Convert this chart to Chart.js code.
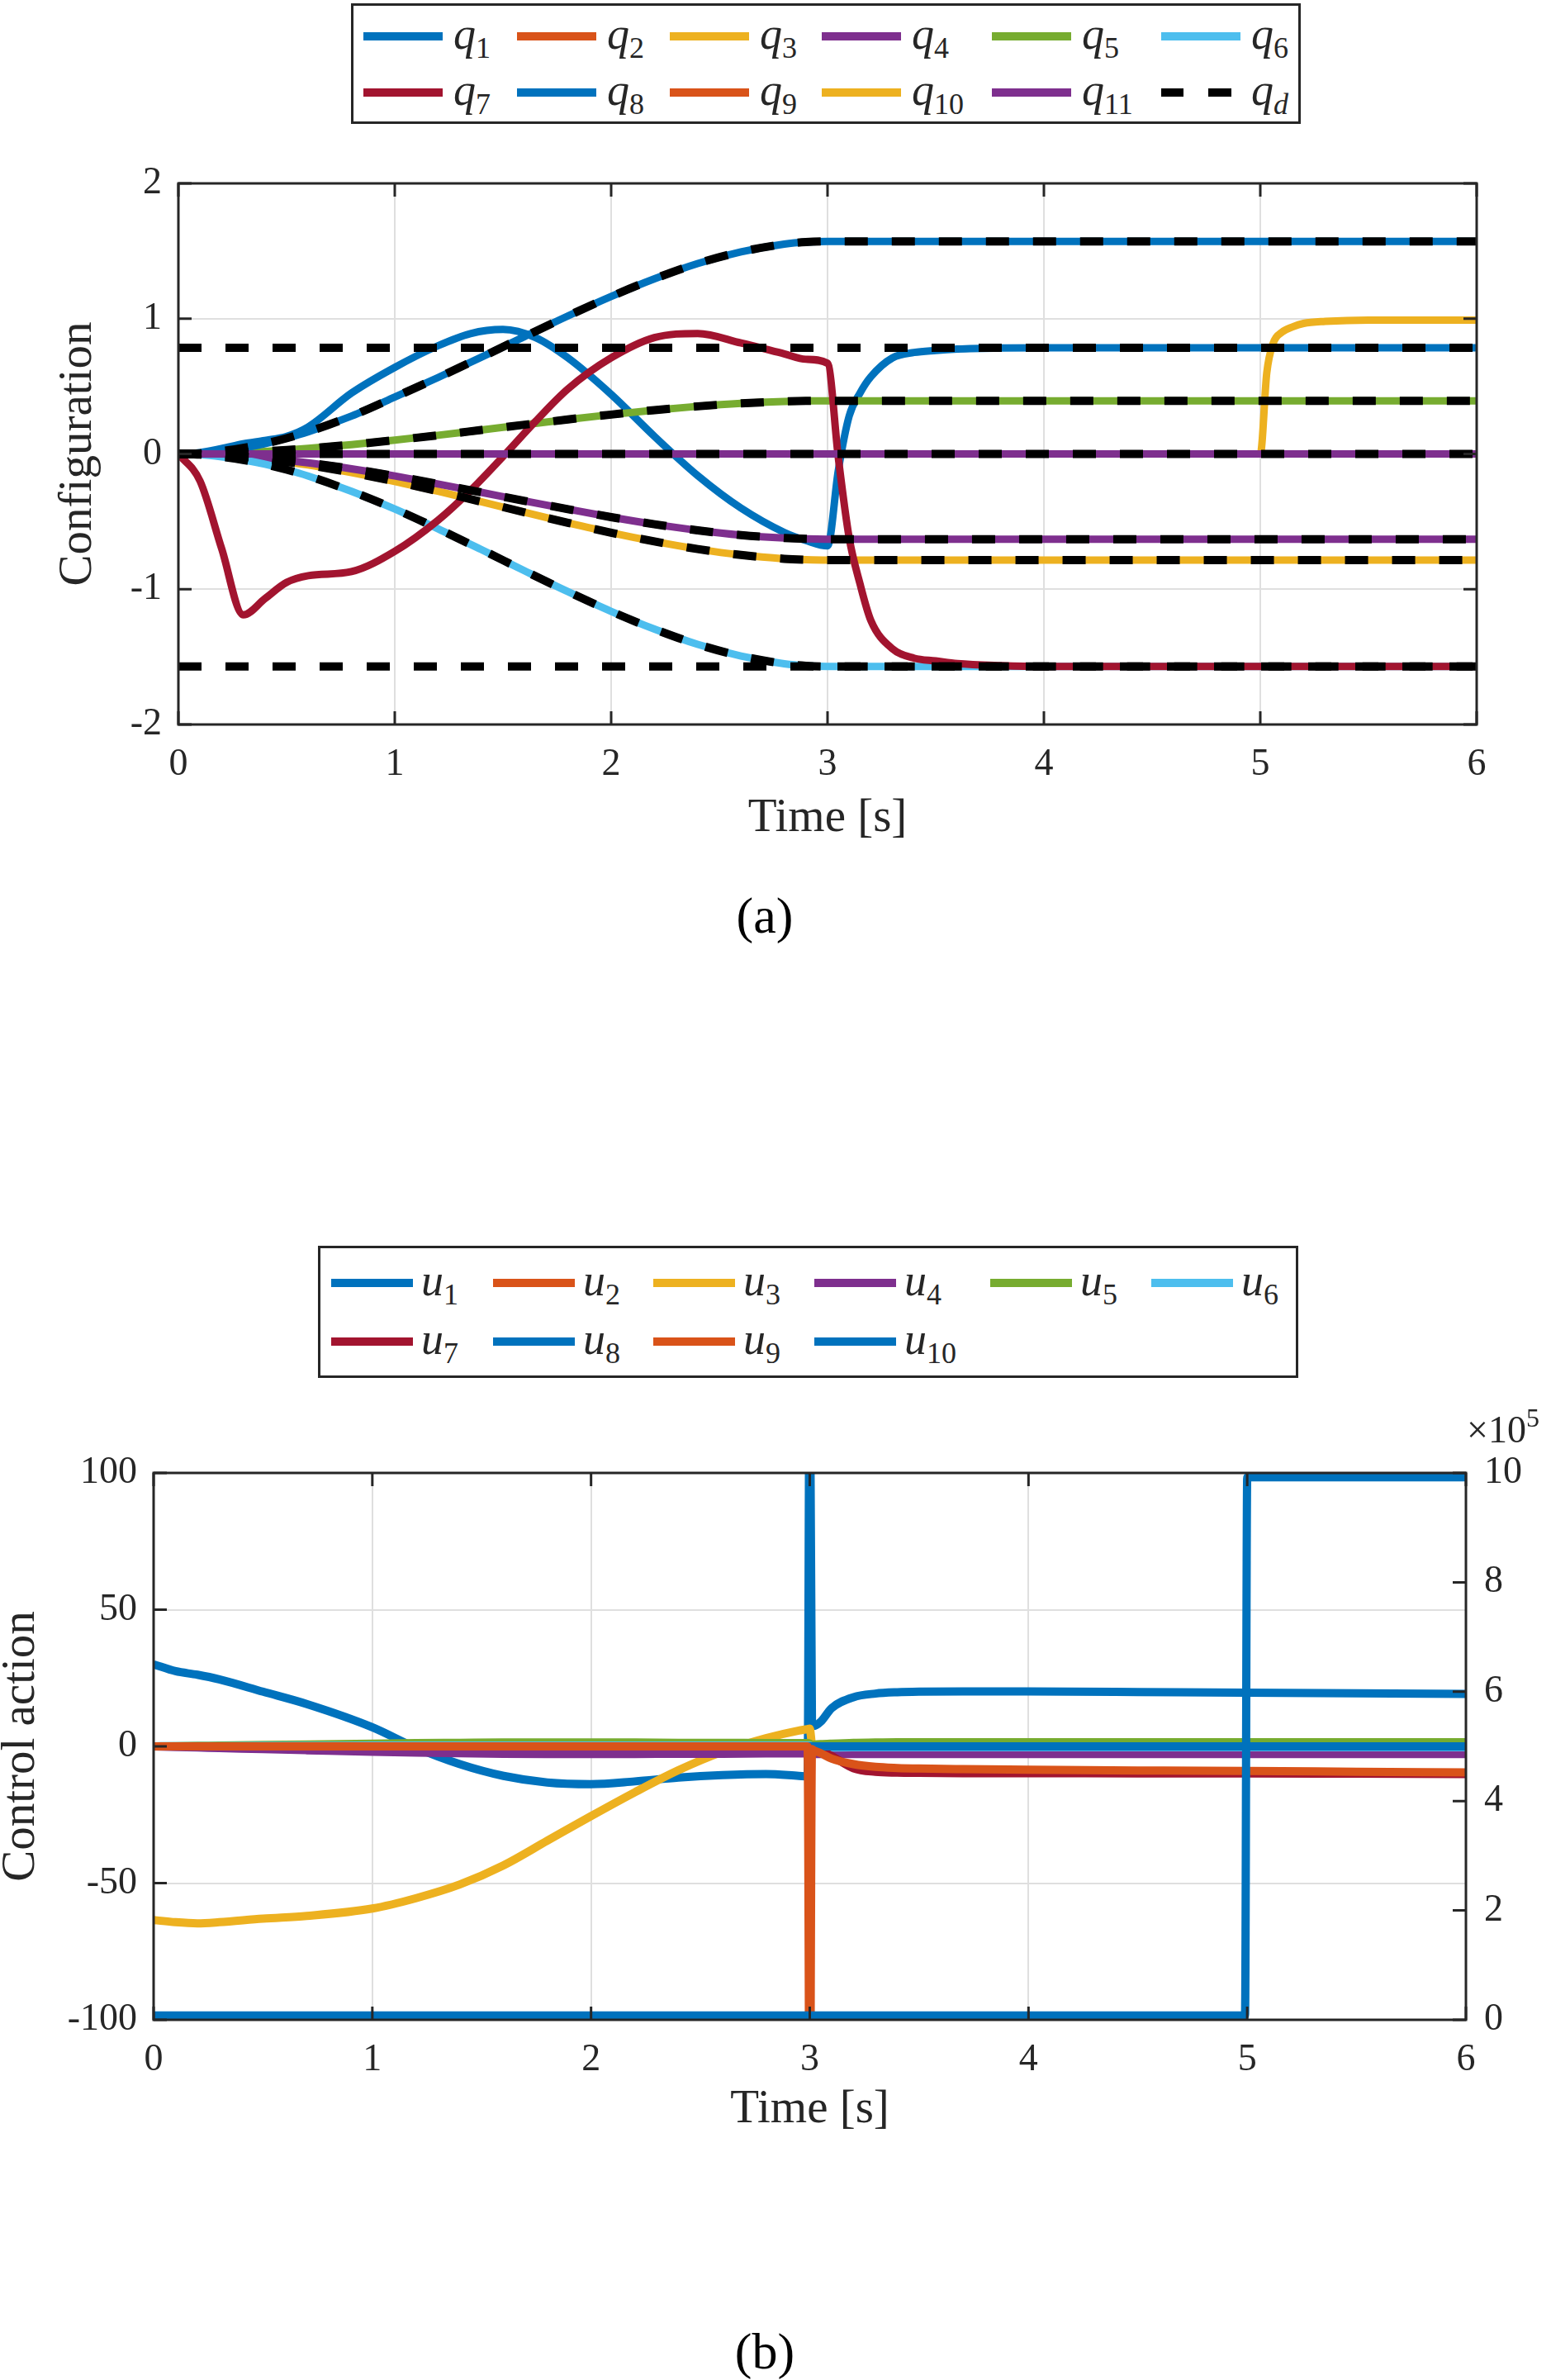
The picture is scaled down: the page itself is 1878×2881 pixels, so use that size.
<!DOCTYPE html>
<html>
<head>
  <meta charset="utf-8">
  <title>Configuration and control action</title>
  <script src="https://cdn.jsdelivr.net/npm/chart.js"></script>
  <style>
    body { margin: 0; width: 1878px; height: 2881px; position: relative; overflow: hidden;
           background: #fff; font-family: 'Liberation Serif', serif; color: #262626; }
    canvas { position: absolute; left: 0; }
    .legend { position: absolute; box-sizing: border-box; border: 3px solid #262626; background: #fff; display: grid; }
    .item { display: flex; align-items: center; white-space: nowrap; }
    .swatch { display: inline-block; height: 10px; transform: translateY(3px); }
    .lbl { font-size: 54px; line-height: 1; }
    .lbl i { font-style: italic; }
    .lbl sub { font-size: 36px; line-height: 0; vertical-align: -11px; }
    .caption { position: absolute; font-size: 62px; line-height: 1; transform: translate(-50%, -50%); color: #000; }
    .exp { position: absolute; font-size: 46px; line-height: 1; }
    .exp sup { font-size: 32px; line-height: 0; vertical-align: 19px; }
  </style>
</head>
<body>

  <div id="legendA" class="legend" style="left:425px; top:4px; width:1150px; height:146px;
       grid-template-columns:186px 185px 184px 206px 205px 1fr; grid-auto-rows:68px; padding:0 0 0 12px;"></div>
  <canvas id="configChart" width="1878" height="1040" style="top:0; width:1878px; height:1040px;"></canvas>
  <div class="caption" style="left:926px; top:1108px;">(a)</div>

  <div id="legendB" class="legend" style="left:385px; top:1508px; width:1187px; height:160px;
       grid-template-columns:196px 194px 195px 213px 195px 1fr; grid-auto-rows:71px; padding:3px 0 0 13px;"></div>
  <canvas id="controlChart" width="1878" height="930" style="top:1690px; width:1878px; height:930px;"></canvas>
  <div class="exp" style="left:1776px; top:1708px;">&times;10<sup>5</sup></div>
  <div class="caption" style="left:926px; top:2846px;">(b)</div>

  <script>
    // ---- axis ticks ----
    const xTicks = [0, 1, 2, 3, 4, 5, 6];
    const yTicksA = [-2, -1, 0, 1, 2];
    const yTicksB = [-100, -50, 0, 50, 100];
    const y2TicksB = [0, 2, 4, 6, 8, 10];

    // ---- (a) configuration, time grids ----
    const tRamp = [0, 0.1, 0.2, 0.3, 0.4, 0.5, 0.6, 0.8, 1.0, 1.2, 1.4, 1.6, 1.8, 2.0, 2.2, 2.4, 2.6, 2.8, 2.9, 3.0, 6.0];
    const tSwitch = [0, 0.1, 0.2, 0.3, 0.4, 0.5, 0.6, 0.8, 1.0, 1.2, 1.35, 1.5, 1.65, 1.8, 2.0, 2.2, 2.4, 2.6, 2.8, 2.9, 3.0,
                     3.05, 3.1, 3.15, 3.2, 3.3, 3.4, 3.5, 3.6, 3.8, 4.0, 6.0];
    const tFlat = [0, 6];
    const tStep5 = [0, 5.0, 5.03, 5.06, 5.1, 5.15, 5.2, 5.3, 5.5, 6.0];

    // joint values
    const q1 = [0, 0.01, 0.04, 0.075, 0.1, 0.13, 0.2, 0.45, 0.64, 0.8, 0.89, 0.92, 0.86, 0.71, 0.44, 0.13, -0.16, -0.40, -0.58, -0.64, -0.68,
                -0.12, 0.28, 0.45, 0.57, 0.71, 0.75, 0.765, 0.775, 0.783, 0.785, 0.785];
    const q2 = [0, 0];
    const q3 = [0, -0.003, -0.01, -0.022, -0.038, -0.058, -0.082, -0.138, -0.203, -0.276, -0.353, -0.432, -0.509, -0.582, -0.647, -0.703, -0.747, -0.775, -0.782, -0.785, -0.785];
    const q4 = [0, -0.002, -0.008, -0.018, -0.031, -0.047, -0.066, -0.11, -0.163, -0.222, -0.284, -0.347, -0.408, -0.467, -0.52, -0.565, -0.6, -0.622, -0.628, -0.63, -0.63];
    const q5 = [0, 0.001, 0.005, 0.011, 0.019, 0.029, 0.041, 0.069, 0.102, 0.138, 0.177, 0.216, 0.255, 0.291, 0.324, 0.352, 0.374, 0.388, 0.392, 0.393, 0.393];
    const q6 = [0, -0.005, -0.021, -0.044, -0.076, -0.116, -0.163, -0.276, -0.407, -0.553, -0.707, -0.864, -1.018, -1.164, -1.295, -1.408, -1.494, -1.551, -1.566, -1.571, -1.571];
    const q7 = [0, -0.2, -0.7, -1.19, -1.07, -0.95, -0.9, -0.87, -0.72, -0.49, -0.27, -0.02, 0.24, 0.48, 0.71, 0.86, 0.89, 0.82, 0.74, 0.70, 0.67,
                -0.03, -0.62, -0.96, -1.23, -1.44, -1.51, -1.53, -1.55, -1.565, -1.571, -1.571];
    const q8 = [0, 0.005, 0.021, 0.044, 0.076, 0.116, 0.163, 0.28, 0.42, 0.565, 0.715, 0.868, 1.02, 1.164, 1.295, 1.408, 1.494, 1.551, 1.566, 1.571, 1.571];
    const q9 = [0, 0];
    const q10 = [0, 0, 0.6, 0.82, 0.9, 0.94, 0.965, 0.98, 0.99, 0.99];
    const q11 = [0, 0];

    // desired values (dashed)
    const qdHold = [0.785, 0.785];
    const qdZero = [0, 0];
    const qdFloor = [-1.571, -1.571];

    // ---- (b) control action ----
    const tB = [0, 0.1, 0.2, 0.3, 0.5, 0.7, 1.0, 1.2, 1.4, 1.6, 1.8, 2.0, 2.2, 2.4, 2.6, 2.8, 2.95, 2.99, 3.0,
                3.01, 3.02, 3.05, 3.1, 3.2, 3.3, 3.4, 3.5, 3.7, 4.0, 4.5, 4.99, 5.0, 5.5, 6.0];
    const tU10 = [0, 4.99, 5.0, 6.0];

    const u1 = [30, 27.5, 26.2, 24.5, 20, 15.5, 7, -0.5, -6.5, -10.8, -13.2, -13.8, -12.8, -11.4, -10.5, -10.1, -10.8, -11, 150,
                8, 7.5, 9, 14, 18, 19.3, 19.8, 20, 20.1, 20.1, 19.9, 19.6, 19.6, 19.4, 19.2];
    const u2 = [0, 0];
    const u3 = [-63.5, -64.3, -64.7, -64.3, -63, -62, -59.3, -55.5, -50.5, -43.5, -34.5, -25.5, -16.8, -8.7, -2, 3, 5.8, 6.3, 6.5,
                1, 0.5, 0.5, 0.5, 0.5, 0.5, 0.5, 0.5, 0.5, 0.5, 0.5, 0.5, 0.5, 0.5, 0.5];
    const u4 = [0, -0.2, -0.4, -0.6, -1, -1.4, -2, -2.3, -2.5, -2.7, -2.8, -2.8, -2.8, -2.7, -2.7, -2.6, -2.6, -2.6, -2.6,
                -2.7, -2.8, -2.8, -2.8, -2.8, -2.8, -2.8, -2.8, -2.8, -2.8, -2.8, -2.8, -2.8, -2.8, -2.8];
    const u5 = [0, 0.1, 0.2, 0.3, 0.5, 0.7, 1.0, 1.2, 1.3, 1.4, 1.4, 1.4, 1.4, 1.3, 1.3, 1.2, 1.2, 1.2, 1.0,
                0.5, 0.6, 0.8, 1.0, 1.3, 1.4, 1.5, 1.5, 1.5, 1.5, 1.5, 1.5, 1.5, 1.5, 1.5];
    const u6 = [0, 0.1, 0.1, 0.1, 0.2, 0.2, 0.3, 0.3, 0.3, 0.3, 0.3, 0.3, 0.3, 0.3, 0.3, 0.3, 0.3, 0.3, 0.3,
                -0.5, -0.6, -0.5, -0.4, -0.3, -0.3, -0.3, -0.3, -0.3, -0.3, -0.3, -0.3, -0.3, -0.3, -0.3];
    const u7 = [0, 0, 0, 0, 0, 0, 0, 0, 0, 0, 0, 0, 0, 0, 0, 0, 0, 0, 0,
                0, -0.5, -1.5, -3.5, -8, -9.3, -9.6, -9.7, -9.8, -9.8, -9.9, -9.9, -9.9, -10, -10.1];
    const u8 = [0, 0];
    const u9 = [0, 0, 0, 0, 0, 0, 0, 0, 0, 0, 0, 0, 0, 0, 0, 0, 0, 0, -150,
                -1, -1.5, -2.5, -4.5, -6.5, -7.5, -7.9, -8.1, -8.3, -8.5, -8.8, -9, -9, -9.3, -9.5];
    const u10 = [0.08, 0.08, 9.92, 9.92];   // right axis, x 10^5

    const matlab = ['#0072BD', '#D95319', '#EDB120', '#7E2F8E', '#77AC30', '#4DBEEE', '#A2142F'];
    const textColor = '#262626';
    const gridColor = '#dfdfdf';
    const serif = "'Liberation Serif', 'Times New Roman', serif";
    const tickFont = { family: serif, size: 46 };
    const titleFont = { family: serif, size: 57 };

    function pts(ts, vs) {
      return ts.map((t, i) => ({ x: t, y: vs[i] }));
    }

    // box round the axes with inward tick marks, like a matlab figure
    const boxTicks = {
      id: 'boxTicks',
      afterDatasetsDraw(chart, args, opts) {
        const { ctx, chartArea: a, scales } = chart;
        const len = 16;
        ctx.save();
        ctx.strokeStyle = textColor;
        ctx.lineWidth = 3;
        ctx.beginPath();
        scales.x.ticks.forEach(t => {
          const px = scales.x.getPixelForValue(t.value);
          ctx.moveTo(px, a.bottom); ctx.lineTo(px, a.bottom - len);
          ctx.moveTo(px, a.top); ctx.lineTo(px, a.top + len);
        });
        scales[opts.left].ticks.forEach(t => {
          const py = scales[opts.left].getPixelForValue(t.value);
          ctx.moveTo(a.left, py); ctx.lineTo(a.left + len, py);
        });
        scales[opts.right].ticks.forEach(t => {
          const py = scales[opts.right].getPixelForValue(t.value);
          ctx.moveTo(a.right, py); ctx.lineTo(a.right - len, py);
        });
        ctx.stroke();
        ctx.strokeRect(a.left, a.top, a.right - a.left, a.bottom - a.top);
        ctx.restore();
      }
    };

    function xScale(height) {
      return {
        type: 'linear', min: 0, max: 6,
        afterBuildTicks: s => { s.ticks = xTicks.map(v => ({ value: v })); },
        afterFit: s => { s.height = height; },
        grid: { color: gridColor, lineWidth: 2, drawTicks: false },
        border: { display: false },
        ticks: { padding: 21, font: tickFont, color: textColor, maxRotation: 0, autoSkip: false },
        title: { display: true, text: 'Time [s]', font: titleFont, color: textColor, padding: 0 }
      };
    }

    function yScale(list, min, max, width, title, titlePad) {
      return {
        type: 'linear', position: 'left', min: min, max: max,
        afterBuildTicks: s => { s.ticks = list.map(v => ({ value: v })); },
        afterFit: s => { s.width = width; },
        grid: { color: gridColor, lineWidth: 2, drawTicks: false },
        border: { display: false },
        ticks: { padding: 20, font: tickFont, color: textColor, autoSkip: false },
        title: { display: true, text: title, font: titleFont, color: textColor, padding: { top: titlePad, bottom: 0 } }
      };
    }

    function line(label, ts, vs, color, width, extra) {
      return Object.assign({
        label: label,
        data: pts(ts, vs),
        borderColor: color,
        backgroundColor: color,
        borderWidth: width,
        fill: false,
        pointRadius: 0,
        borderJoinStyle: 'round',
        cubicInterpolationMode: 'monotone'
      }, extra || {});
    }

    // ---- chart (a) ----
    const qSeries = [
      ['1', tSwitch, q1], ['2', tFlat, q2], ['3', tRamp, q3], ['4', tRamp, q4], ['5', tRamp, q5], ['6', tRamp, q6],
      ['7', tSwitch, q7], ['8', tRamp, q8], ['9', tFlat, q9], ['10', tStep5, q10], ['11', tFlat, q11]
    ];
    const qdSeries = [
      [tRamp, q8], [tRamp, q5], [tFlat, qdZero], [tRamp, q4], [tRamp, q3], [tRamp, q6], [tFlat, qdHold], [tFlat, qdFloor]
    ];

    const datasetsA = qSeries.map((s, i) =>
      line('q' + s[0], s[1], s[2], matlab[i % 7], 9, { order: 100 - i }));
    qdSeries.forEach((s, i) => {
      datasetsA.push(line('q_d', s[0], s[1], '#000000', 10, { order: 50 - i, borderDash: [28, 29] }));
    });

    new Chart(document.getElementById('configChart'), {
      type: 'line',
      data: { datasets: datasetsA },
      plugins: [boxTicks],
      options: {
        responsive: false, animation: false, devicePixelRatio: 1,
        layout: { padding: { top: 222, right: 90, bottom: 15, left: 0 } },
        plugins: { legend: { display: false }, tooltip: { enabled: false }, boxTicks: { left: 'y', right: 'y' } },
        scales: {
          x: xScale(148),
          y: yScale(yTicksA, -2, 2, 216, 'Configuration', 61)
        }
      }
    });

    // ---- chart (b) ----
    const uSeries = [
      ['1', tB, u1], ['2', tFlat, u2], ['3', tB, u3], ['4', tB, u4], ['5', tB, u5], ['6', tB, u6],
      ['7', tB, u7], ['8', tFlat, u8], ['9', tB, u9]
    ];
    const datasetsB = uSeries.map((s, i) =>
      line('u' + s[0], s[1], s[2], matlab[i % 7], 10, { order: 100 - i, clip: 0 }));
    datasetsB.push(line('u10', tU10, u10, matlab[0], 10, { order: 0, clip: 0, yAxisID: 'y2' }));

    const y2 = {
      type: 'linear', position: 'right', min: 0, max: 10,
      afterBuildTicks: s => { s.ticks = y2TicksB.map(v => ({ value: v })); },
      afterFit: s => { s.width = 103; },
      grid: { drawOnChartArea: false, drawTicks: false },
      border: { display: false },
      ticks: { padding: 22, font: tickFont, color: textColor, autoSkip: false }
    };

    new Chart(document.getElementById('controlChart'), {
      type: 'line',
      data: { datasets: datasetsB },
      plugins: [boxTicks],
      options: {
        responsive: false, animation: false, devicePixelRatio: 1,
        layout: { padding: { top: 93, right: 0, bottom: 32, left: 0 } },
        plugins: { legend: { display: false }, tooltip: { enabled: false }, boxTicks: { left: 'y', right: 'y2' } },
        scales: {
          x: xScale(143),
          y: yScale(yTicksB, -100, 100, 186, 'Control action', -8),
          y2: y2
        }
      }
    });

    // ---- legends ----
    function buildLegend(id, sym, subs, colors, swatchW, gap, dashed) {
      const box = document.getElementById(id);
      subs.forEach((sub, i) => {
        const item = document.createElement('div');
        item.className = 'item';
        const sw = document.createElement('span');
        sw.className = 'swatch';
        sw.style.width = swatchW + 'px';
        sw.style.marginRight = gap + 'px';
        const isD = dashed && i === subs.length - 1;
        if (isD) {
          sw.style.background = 'linear-gradient(to right, #000 0 27px, transparent 27px 57px, #000 57px 85px, transparent 85px)';
        } else {
          sw.style.background = colors[i];
        }
        const lbl = document.createElement('span');
        lbl.className = 'lbl';
        lbl.innerHTML = '<i>' + sym + '</i><sub>' + (isD ? '<i>' + sub + '</i>' : sub) + '</sub>';
        item.appendChild(sw);
        item.appendChild(lbl);
        box.appendChild(item);
      });
    }

    const qLegendSubs = ['1', '2', '3', '4', '5', '6', '7', '8', '9', '10', '11', 'd'];
    const uLegendSubs = ['1', '2', '3', '4', '5', '6', '7', '8', '9', '10'];
    const qLegendColors = qLegendSubs.map((s, i) => matlab[i % 7]);
    const uLegendColors = uLegendSubs.map((s, i) => i === 9 ? matlab[0] : matlab[i % 7]);

    buildLegend('legendA', 'q', qLegendSubs, qLegendColors, 96, 13, true);
    buildLegend('legendB', 'u', uLegendSubs, uLegendColors, 99, 10, false);
  </script>

</body>
</html>
